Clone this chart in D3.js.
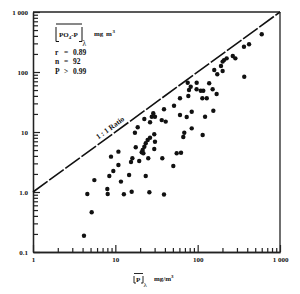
<!DOCTYPE html>
<html><head><meta charset="utf-8">
<script src="https://cdn.jsdelivr.net/npm/d3@7"></script>
<style>
html,body{margin:0;padding:0;background:#fff;}
svg text{font-family:"Liberation Serif","DejaVu Serif",serif;fill:#111;}
</style></head>
<body><svg id="c" width="300" height="294"></svg>
<script>
// Particulate P (x) vs dissolved PO4-P (y), mg/m^3
const xValues = [600,421,365,267,287,225,209,201,192,159,201,173,368,75.7,97.3,138,82.3,78.5,97,109,117,152,77,170,114,129,61,51.6,39,155,84.7,61,73.6,123,28.9,27.7,30.3,22.5,26.4,36.6,40.9,18.7,17.3,84.7,68.8,66.9,115,26.4,24.7,23.4,22.5,21.5,20.9,29.7,30.3,29.7,17.7,10.9,8.86,16.1,15.5,19.5,21.9,25.1,37.2,10.9,50.6,55.6,62.8,9.45,8.45,14.7,23.4,5.56,11.7,7.99,8.08,15.8,12.7,25.9,39,4.57,5.16,4.16];
const yValues = [425,290,264,185,169,169,158,149,126,108,104,91.5,83.5,66.3,66.3,64.8,56.9,50.1,51.5,48.8,48.8,51.5,39.8,43,36.5,36.5,36.5,27.4,23.9,22.6,21.8,19.2,17.8,18,20.5,18,18,16.5,14.5,15.8,14.9,12,9.73,11.5,9.73,8.25,8.91,8.04,7.36,6.48,5.69,5.01,4.59,9.16,6.89,5.21,5.56,4.7,3.88,3.65,3.16,3.29,4.42,3.65,3.65,2.82,2.71,4.42,4.52,2.24,1.85,1.92,1.85,1.58,1.49,1.12,0.926,1.01,0.916,0.99,0.91,0.926,0.459,0.187];
const xMajor = [1,10,100,1000];
const xTickLabels = ["1","10","100","1 000"];
const yMajor = [0.1,1,10,100,1000];
const yTickLabels = ["0.1","1.0","10","100","1 000"];
const ratioLine = [1,1000];
const statNames = ["r","n","P"];
const statOps = ["=","=",">"];
const statVals = ["0.89","92","0.99"];

const svg = d3.select("#c");
const x = d3.scaleLog().domain([1,1000]).range([33,280]);
const y = d3.scaleLog().domain([0.1,1000]).range([252,12]);

function minors(lo,hi){const a=[];for(let e=lo;e<hi;e++){for(let k=2;k<=9;k++)a.push(k*Math.pow(10,e));}return a;}
const xMinor = minors(0,3), yMinor = minors(-1,3);

// frame (top & right)
svg.append("line").attr("x1",x(1)).attr("x2",x(1000)).attr("y1",y(1000)).attr("y2",y(1000)).attr("stroke","#222").attr("stroke-width",1.3);
svg.append("line").attr("x1",x(1000)).attr("x2",x(1000)).attr("y1",y(1000)).attr("y2",y(0.1)).attr("stroke","#222").attr("stroke-width",1.3);

// axes
const gx = svg.append("g").attr("transform",`translate(0,${y(0.1)})`);
gx.call(d3.axisBottom(x).tickValues(xMinor).tickSize(-4).tickFormat("").tickSizeOuter(0));
gx.call(g=>g.append("g").call(d3.axisBottom(x).tickValues(xMajor).tickSize(-7).tickPadding(5).tickSizeOuter(0).tickFormat((d,i)=>xTickLabels[i])));
const gy = svg.append("g").attr("transform",`translate(${x(1)},0)`);
gy.call(d3.axisLeft(y).tickValues(yMinor).tickSize(-5).tickFormat("").tickSizeOuter(0));
gy.call(g=>g.append("g").call(d3.axisLeft(y).tickValues(yMajor).tickSize(-7).tickPadding(5).tickSizeOuter(0).tickFormat((d,i)=>yTickLabels[i])));
svg.selectAll(".domain").attr("stroke","#222").attr("stroke-width",1.3);
svg.selectAll(".tick line").attr("stroke","#222").attr("stroke-width",1.2);
svg.selectAll(".tick text").attr("font-size",7).attr("font-weight","bold").attr("fill","#111")
  .attr("font-family","Liberation Serif, DejaVu Serif, serif");

// 1:1 line
svg.append("line").attr("x1",x(ratioLine[0])).attr("y1",y(ratioLine[0])).attr("x2",x(ratioLine[1])).attr("y2",y(ratioLine[1]))
  .attr("stroke","#111").attr("stroke-width",1.6).attr("stroke-dasharray","18,2");
const ang = Math.atan2(y(10)-y(1), x(10)-x(1))*180/Math.PI;
const lx = x(9.6), ly = y(9.6);
svg.append("text").attr("transform",`translate(${lx},${ly}) rotate(${ang}) translate(0,-4)`)
  .attr("text-anchor","middle").attr("font-size",7.5).attr("font-weight","bold").text("1 : 1  Ratio");

// points
svg.append("g").selectAll("circle").data(xValues.map((v,i)=>[v,yValues[i]])).join("circle")
  .attr("cx",d=>x(d[0])).attr("cy",d=>y(d[1])).attr("r",2.2).attr("fill","#111");

// legend
const lg = svg.append("g");
lg.append("path").attr("d","M59,41.5 H56 V27 M56,24 H82 M79,41.5 H82 V27").attr("fill","none").attr("stroke","#111").attr("stroke-width",1);
lg.append("text").attr("x",59).attr("y",37).attr("font-size",7).attr("font-weight","bold")
  .html('PO<tspan font-size="5" dy="1.5">4</tspan><tspan dy="-1.5">-P</tspan>');
lg.append("text").attr("x",82.5).attr("y",46).attr("font-size",7.5).text("λ");
lg.append("text").attr("x",94).attr("y",36).attr("font-size",7).attr("font-weight","bold").text("mg");
lg.append("text").attr("x",106).attr("y",36).attr("font-size",7).attr("font-weight","bold").text("m");
lg.append("text").attr("x",112.5).attr("y",32.5).attr("font-size",5).attr("font-weight","bold").text("3");
const rows = lg.selectAll(null).data(statNames).join("g").attr("transform",(d,i)=>`translate(55,${54.5+i*9.8})`);
rows.append("text").attr("font-size",7.5).attr("font-weight","bold").text(d=>d);
rows.append("text").attr("x",9).attr("font-size",7.5).attr("font-weight","bold").text((d,i)=>statOps[i]);
rows.append("text").attr("x",18).attr("font-size",7.5).attr("font-weight","bold").text((d,i)=>statVals[i]);

// x axis title
const xt = svg.append("g");
xt.append("path").attr("d","M136,283 H134 V276 M134,273.5 H143 M141,283 H143 V276").attr("fill","none").attr("stroke","#111").attr("stroke-width",0.9);
xt.append("text").attr("x",136).attr("y",281.5).attr("font-size",7).attr("font-weight","bold").text("P");
xt.append("text").attr("x",143.5).attr("y",287).attr("font-size",7).text("λ");
xt.append("text").attr("x",154).attr("y",281).attr("font-size",7).attr("font-weight","bold").text("mg/m");
xt.append("text").attr("x",171).attr("y",278).attr("font-size",5).attr("font-weight","bold").text("3");
</script></body></html>
